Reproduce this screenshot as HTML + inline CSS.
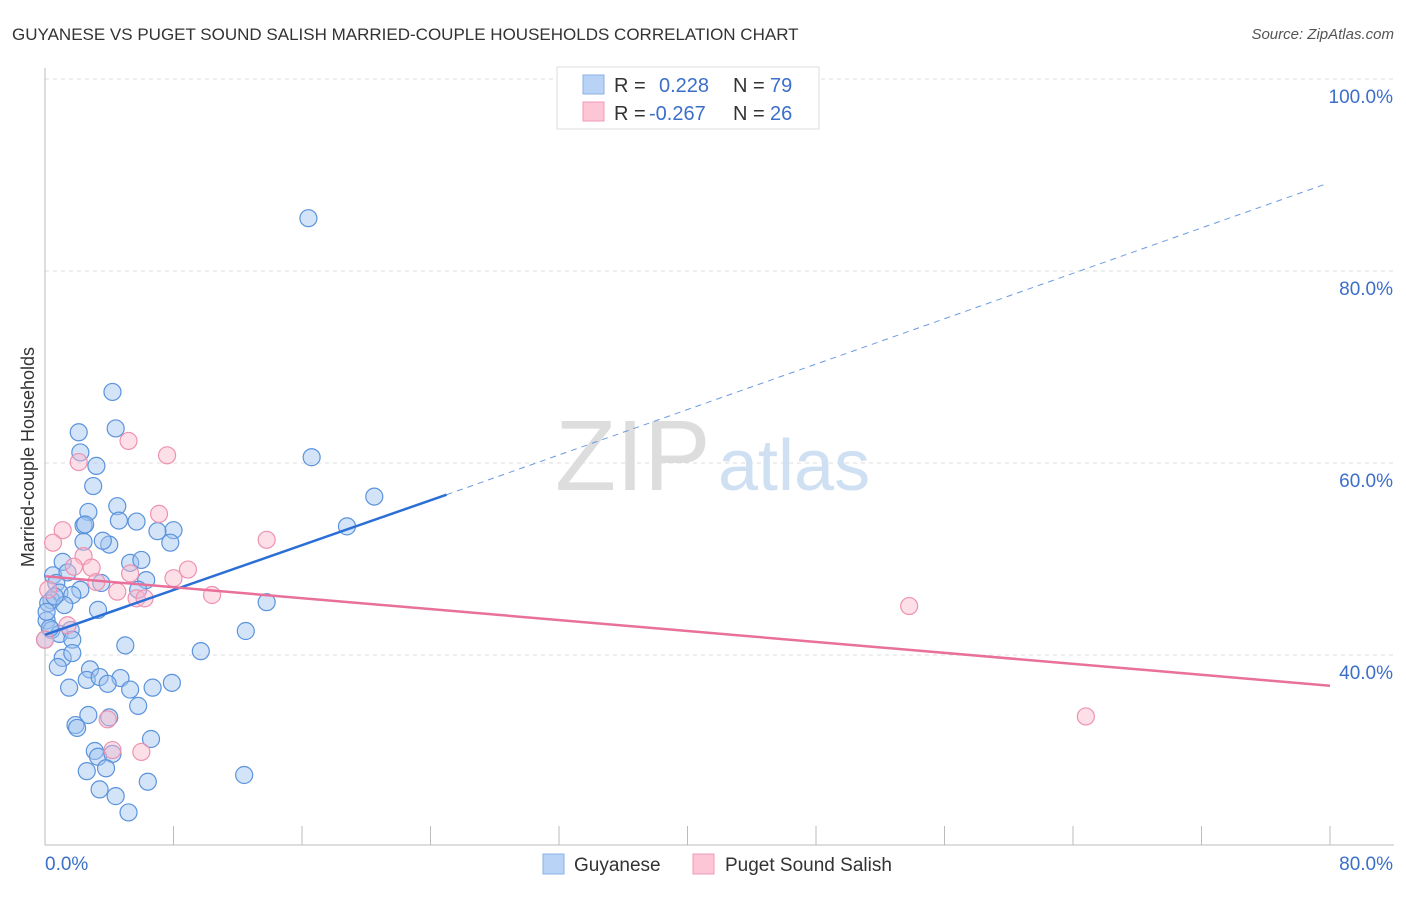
<!DOCTYPE html>
<html><head><meta charset="utf-8"><style>
body{margin:0;background:#fff;font-family:"Liberation Sans",sans-serif;}
svg text{font-family:"Liberation Sans",sans-serif;}
</style></head><body>
<svg id="chart" width="1406" height="892" xmlns="http://www.w3.org/2000/svg">
<text x="12" y="40" font-size="17" fill="#333">GUYANESE VS PUGET SOUND SALISH MARRIED-COUPLE HOUSEHOLDS CORRELATION CHART</text>
<text x="1394" y="39" font-size="15" fill="#555" text-anchor="end" font-style="italic">Source: ZipAtlas.com</text>
<g id="grid"></g>
<g id="axes"></g>
<text x="555" y="490" font-size="100" fill="#ddd" font-family="Liberation Serif">ZIP</text>
<text x="718" y="490" font-size="72" fill="#cfe0f3">atlas</text>
<g id="pts"></g>
<g id="lines"></g>
<text transform="translate(34,457) rotate(-90)" font-size="18" fill="#333" text-anchor="middle">Married-couple Households</text>
<g>
<rect x="557" y="67" width="262" height="62" fill="#fff" stroke="#ddd"/>
<rect x="583" y="75" width="21" height="19" fill="#b8d3f5" stroke="#8ab0e6"/>
<rect x="583" y="102" width="21" height="19" fill="#fcc6d6" stroke="#f09ab5"/>
<text x="614" y="92" font-size="20" fill="#333">R =</text>
<text x="659" y="92" font-size="20" fill="#3b6fc9">0.228</text>
<text x="733" y="92" font-size="20" fill="#333">N =</text>
<text x="770" y="92" font-size="20" fill="#3b6fc9">79</text>
<text x="614" y="120" font-size="20" fill="#333">R =</text>
<text x="649" y="120" font-size="20" fill="#3b6fc9">-0.267</text>
<text x="733" y="120" font-size="20" fill="#333">N =</text>
<text x="770" y="120" font-size="20" fill="#3b6fc9">26</text>
</g>
<g>
<rect x="543" y="854" width="21" height="20" fill="#b8d3f5" stroke="#8ab0e6"/>
<text x="574" y="871" font-size="19" fill="#333">Guyanese</text>
<rect x="693" y="854" width="21" height="20" fill="#fcc6d6" stroke="#f09ab5"/>
<text x="725" y="871" font-size="19" fill="#333">Puget Sound Salish</text>
</g>
</svg>
<script>
const blueX=[16.4,4.2,4.4,2.1,2.2,3.2,3.0,16.6,20.5,4.5,2.7,2.4,2.5,4.6,5.7,8.0,7.0,18.8,2.4,4.0,3.6,7.8,1.1,5.3,6.0,0.5,1.4,0.7,6.3,3.5,2.2,5.8,0.9,1.7,0.4,0.2,1.2,3.3,13.8,0.1,0.4,0.9,1.6,1.7,12.5,5.0,9.7,1.1,1.7,0.8,2.8,2.6,3.4,4.7,3.9,5.3,7.9,6.7,1.5,5.8,2.7,4.0,1.9,2.0,6.6,3.1,3.3,4.2,3.8,2.6,12.4,6.4,3.4,4.4,5.2,0.0,0.3,0.1,0.6];
const blueY=[85.5,67.4,63.6,63.2,61.1,59.7,57.6,60.6,56.5,55.5,54.9,53.5,53.6,54.0,53.9,53.0,52.9,53.4,51.8,51.5,51.9,51.7,49.7,49.6,49.9,48.3,48.6,47.5,47.8,47.5,46.8,46.8,46.5,46.25,45.7,45.4,45.2,44.7,45.5,43.6,42.6,42.2,42.6,41.6,42.5,41.0,40.4,39.7,40.2,38.75,38.5,37.4,37.7,37.6,37.0,36.4,37.1,36.6,36.6,34.7,33.75,33.5,32.7,32.4,31.25,30.0,29.4,29.7,28.2,27.9,27.5,26.8,26.0,25.3,23.6,41.6,42.8,44.5,46.1];
const pinkX=[5.2,2.1,7.6,1.1,0.5,7.1,13.8,2.4,2.9,1.8,5.3,8.0,8.9,3.2,4.5,5.7,6.2,10.4,0.2,1.4,53.8,64.8,3.9,4.2,6.0,0.0];
const pinkY=[62.3,60.1,60.8,53.0,51.7,54.7,52.0,50.3,49.1,49.2,48.5,48.0,48.9,47.6,46.6,45.9,45.9,46.25,46.8,43.1,45.1,33.6,33.3,30.1,29.9,41.6];
const blueFit=[0.0,42.1,25.0,56.7,79.8,89.1];
const pinkFit=[0.0,48.2,80.0,36.8];
const xTicks=["0.0%","80.0%"];
const yTicks=[40,60,80,100];
const NS="http://www.w3.org/2000/svg";
const X=v=>45+v/80*1285, Y=v=>655-(v-40)*9.6;
function mk(tag,attrs,parent){const e=document.createElementNS(NS,tag);for(const k in attrs)e.setAttribute(k,attrs[k]);parent.appendChild(e);return e;}
const grid=document.getElementById('grid'),axes=document.getElementById('axes'),pts=document.getElementById('pts'),lines=document.getElementById('lines');
yTicks.forEach(t=>{
 const l=mk('line',{x1:45,x2:1394,y1:Y(t),y2:Y(t),stroke:'#ddd','stroke-dasharray':'4,4'},grid);
 
 
 const tx=mk('text',{x:1393,y:Y(t)+24,'font-size':19,fill:'#3b6fc9','text-anchor':'end'},axes);
 tx.textContent=t.toFixed(1)+'%';
 
 
});
const ya=mk('line',{x1:45,x2:45,y1:68,y2:845,stroke:'#bbb'},axes);


const xa=mk('line',{x1:45,x2:1394,y1:845,y2:845,stroke:'#bbb'},axes);


for(let i=0;i<=10;i++){const tk=mk('line',{x1:X(i*8),x2:X(i*8),y1:826,y2:845,stroke:'#bbb'},axes);
 
 }
const tx0=mk('text',{x:45,y:870,'font-size':19,fill:'#3b6fc9'},axes);tx0.textContent=xTicks[0];


const tx1=mk('text',{x:1393,y:870,'font-size':19,fill:'#3b6fc9','text-anchor':'end'},axes);tx1.textContent=xTicks[1];


blueX.forEach((v,i)=>{const c=mk('circle',{cx:X(v),cy:Y(blueY[i]),r:8.5,fill:'rgba(160,195,240,0.45)',stroke:'#5b93dc','stroke-width':1.2},pts);
 
 });
pinkX.forEach((v,i)=>{const c=mk('circle',{cx:X(v),cy:Y(pinkY[i]),r:8.5,fill:'rgba(250,185,205,0.45)',stroke:'#ee92b0','stroke-width':1.2},pts);
 
 });
const b1=mk('line',{x1:X(blueFit[0]),y1:Y(blueFit[1]),x2:X(blueFit[2]),y2:Y(blueFit[3]),stroke:'#2b6fd6','stroke-width':2.5},lines);


const b2=mk('line',{x1:X(blueFit[2]),y1:Y(blueFit[3]),x2:X(blueFit[4]),y2:Y(blueFit[5]),stroke:'#6b9be0','stroke-width':1,'stroke-dasharray':'6,5'},lines);


const p1=mk('line',{x1:X(pinkFit[0]),y1:Y(pinkFit[1]),x2:X(pinkFit[2]),y2:Y(pinkFit[3]),stroke:'#e8709a','stroke-width':2.5},lines);


</script>
</body></html>
